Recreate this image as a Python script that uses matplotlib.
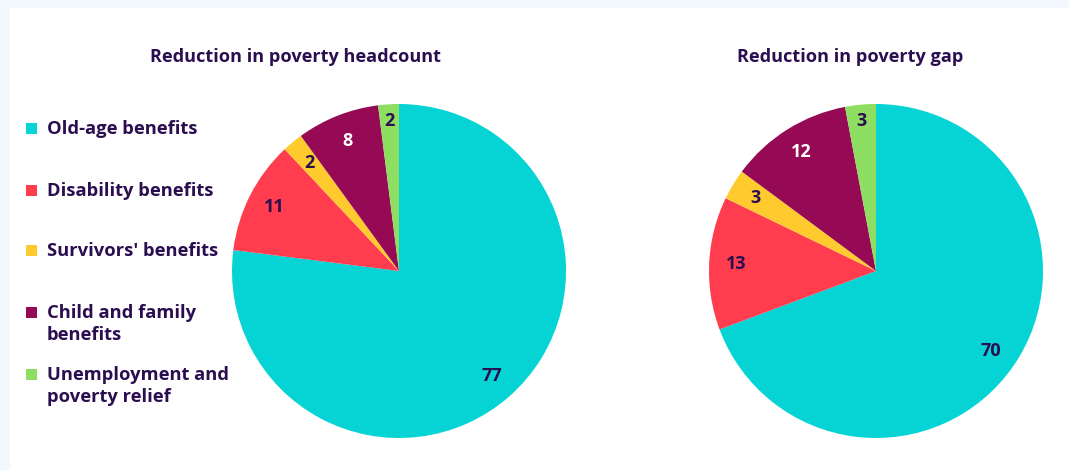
import matplotlib
matplotlib.use("Agg")
import matplotlib.pyplot as plt
from matplotlib.patches import Rectangle
import numpy as np

categories = ["Old-age benefits", "Disability benefits", "Survivors' benefits",
              "Child and family\nbenefits", "Unemployment and\npoverty relief"]
headcount = [77, 11, 2, 8, 2]
gap = [70, 13, 3, 12, 3]
titles = ["Reduction in poverty headcount", "Reduction in poverty gap"]

colors = ["#06d4d4", "#ff3d4f", "#ffca2e", "#960a55", "#8ede62"]
label_colors = ["#2b0e50", "#2b0e50", "#2b0e50", "#ffffff", "#2b0e50"]
label_r = [0.84, 0.84, 0.84, 0.84, 0.90]
TXT = "#2b0e50"

plt.rcParams['font.family'] = ['Open Sans', 'DejaVu Sans']

W, H = 1069, 470
fig = plt.figure(figsize=(W / 100, H / 100), dpi=100)
fig.patch.set_facecolor("#f3f7fe")
fig.patches.append(Rectangle((10 / W, 0), 1, (H - 8) / H, transform=fig.transFigure,
                             facecolor="white", edgecolor="none", zorder=-5))

def px(x, y):
    return x / W, 1 - y / H

# pies
for data, cx, tx, title in [(headcount, 399, 296, titles[0]), (gap, 876, 850, titles[1])]:
    r = 167
    ax = fig.add_axes([(cx - r) / W, (H - 271 - r) / H, 2 * r / W, 2 * r / H], zorder=1)
    ax.patch.set_visible(False)
    wedges, _ = ax.pie(data, colors=colors, startangle=90, counterclock=False,
                       radius=1, wedgeprops=dict(linewidth=0))
    for w, v, lc, lr in zip(wedges, data, label_colors, label_r):
        ang = np.deg2rad((w.theta1 + w.theta2) / 2)
        ax.text(lr * np.cos(ang), lr * np.sin(ang), str(v), ha="center", va="center",
                color=lc, fontsize=13, fontweight="bold")
    ax.set_xlim(-1, 1)
    ax.set_ylim(-1, 1)
    ax.set_aspect("equal")
    ax.axis("off")
    fig.text(*px(tx, 57), title, ha="center", va="center", color=TXT,
             fontsize=13.1, fontweight="bold")

# legend
leg_y = [128, 190, 250, 312, 374]
for c, lab, y in zip(colors, categories, leg_y):
    fig.patches.append(Rectangle(px(26, y + 5.5), 11 / W, 11 / H, transform=fig.transFigure,
                                 facecolor=c, edgecolor="none", zorder=2))
    fig.text(*px(47, y - 8), lab, ha="left", va="top", color=TXT,
             fontsize=13.2, fontweight="bold", linespacing=1.25)

fig.savefig("out.png", dpi=100, facecolor=fig.get_facecolor())
